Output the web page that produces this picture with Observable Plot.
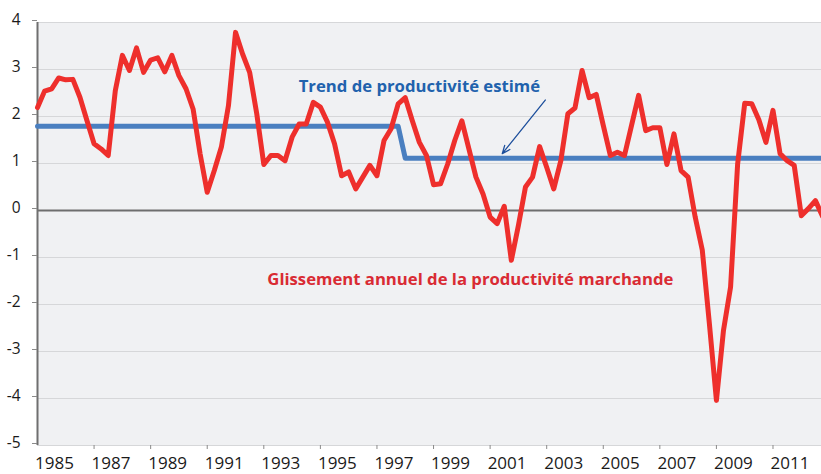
<!DOCTYPE html>
<html><head><meta charset="utf-8">
<script src="https://cdn.jsdelivr.net/npm/d3@7"></script>
<script src="https://cdn.jsdelivr.net/npm/@observablehq/plot@0.6"></script>
<style>body{margin:0;background:#fff;overflow:hidden}</style>
</head><body><div id="chart"></div>
<script>
// Quarterly series, 1985Q1 .. 2012Q4
const startYear = 1985;
const glissement = [
  2.19, 2.54, 2.59, 2.82,   // 1985
  2.78, 2.79, 2.41, 1.91,   // 1986
  1.42, 1.31, 1.17, 2.55,   // 1987
  3.30, 2.98, 3.46, 2.94,   // 1988
  3.20, 3.25, 2.95, 3.30,   // 1989
  2.87, 2.59, 2.16, 1.20,   // 1990
  0.39, 0.85, 1.35, 2.23,   // 1991
  3.79, 3.33, 2.94, 2.06,   // 1992
  0.98, 1.17, 1.17, 1.06,   // 1993
  1.56, 1.84, 1.84, 2.30,   // 1994
  2.20, 1.88, 1.42, 0.74,   // 1995
  0.82, 0.46, 0.71, 0.96,   // 1996
  0.74, 1.49, 1.74, 2.27,   // 1997
  2.40, 1.91, 1.45, 1.17,   // 1998
  0.55, 0.57, 0.99, 1.49,   // 1999
  1.91, 1.31, 0.71, 0.35,   // 2000
  -0.14, -0.28, 0.09, -1.06, // 2001
  -0.32, 0.50, 0.71, 1.36,  // 2002
  0.92, 0.46, 1.06, 2.06,   // 2003
  2.18, 2.98, 2.40, 2.47,   // 2004
  1.81, 1.17, 1.24, 1.17,   // 2005
  1.81, 2.45, 1.70, 1.76,   // 2006
  1.76, 0.98, 1.63, 0.85,   // 2007
  0.71, -0.14, -0.84, -2.40, // 2008
  -4.04, -2.55, -1.63, 0.99, // 2009
  2.28, 2.27, 1.93, 1.45,   // 2010
  2.13, 1.21, 1.06, 0.96,   // 2011
  -0.11, 0.04, 0.21, -0.12  // 2012
];
// Estimated trend: two levels, break after 1997Q4
const trendTimes  = [1985, 1997.75, 1998, 2012.75];
const trendValues = [1.79, 1.79, 1.11, 1.11];

const yTicks = [-5, -4, -3, -2, -1, 0, 1, 2, 3, 4];
const yearLabels = [1985, 1987, 1989, 1991, 1993, 1995, 1997, 1999, 2001, 2003, 2005, 2007, 2009, 2011];
const yearTicks = [1987, 1989, 1991, 1993, 1995, 1997, 1999, 2001, 2003, 2005, 2007, 2009, 2011];

const annotTexts = ["Trend de productivité estimé", "Glissement annuel de la productivité marchande"];
const annotX = [1998.5, 2000.3];
const annotY = [2.64, -1.47];
const annotColors = ["#2162ad", "#d92b33"];
const arrowFrom = [2002.95, 2.35];
const arrowTo = [2001.43, 1.21];

const redData = glissement.map((v, i) => ({t: startYear + i / 4, v}));
const trendData = trendTimes.map((t, i) => ({t, v: trendValues[i]}));
const annotData = annotTexts.map((s, i) => ({s, x: annotX[i], y: annotY[i], c: annotColors[i]}));
const arrowData = [{x1: arrowFrom[0], y1: arrowFrom[1], x2: arrowTo[0], y2: arrowTo[1]}];

const chart = Plot.plot({
  width: 821,
  height: 474,
  marginTop: 22,
  marginBottom: 29,
  marginLeft: 37,
  marginRight: 0,
  style: {fontFamily: "'Open Sans', sans-serif", fontSize: "15px", color: "#1a1a1a", background: "#fff"},
  x: {domain: [1985, 2012.75], range: [37, 822]},
  y: {domain: [-5, 4]},
  marks: [
    Plot.frame({fill: "#f0f1f3"}),
    Plot.gridY(yTicks, {stroke: "#d6d7d9", strokeOpacity: 1, strokeWidth: 1}),
    Plot.ruleY([0], {stroke: "#6e6e6e", strokeWidth: 2}),
    Plot.ruleX([1985], {stroke: "#6f6f6f", strokeWidth: 2}),
    Plot.axisY(yTicks, {tickSize: 5, tickPadding: 12, stroke: "#8a8a8a", fontSize: 15.5, dy: -2, tickFormat: d => String(d)}),
    Plot.axisX(yearTicks, {tickSize: 4, stroke: "#8a8a8a", tickFormat: () => ""}),
    Plot.axisX(yearLabels.map(y => y + 0.6), {tickSize: 0, tickPadding: 11, fontSize: 17, tickFormat: d => String(Math.floor(d))}),
    Plot.line(trendData, {x: "t", y: "v", stroke: "#4a7fc0", strokeWidth: 5}),
    Plot.line(redData, {x: "t", y: "v", stroke: "#ee2f2c", strokeWidth: 5, strokeLinejoin: "round"}),
    Plot.arrow(arrowData, {x1: "x1", y1: "y1", x2: "x2", y2: "y2", stroke: "#1d4f9c", strokeWidth: 1.3, headLength: 10, headAngle: 45}),
    Plot.text(annotData, {x: "x", y: "y", text: "s", fill: "c", fontWeight: "bold", fontSize: 16.7})
  ]
});
document.getElementById("chart").appendChild(chart);
</script></body></html>
